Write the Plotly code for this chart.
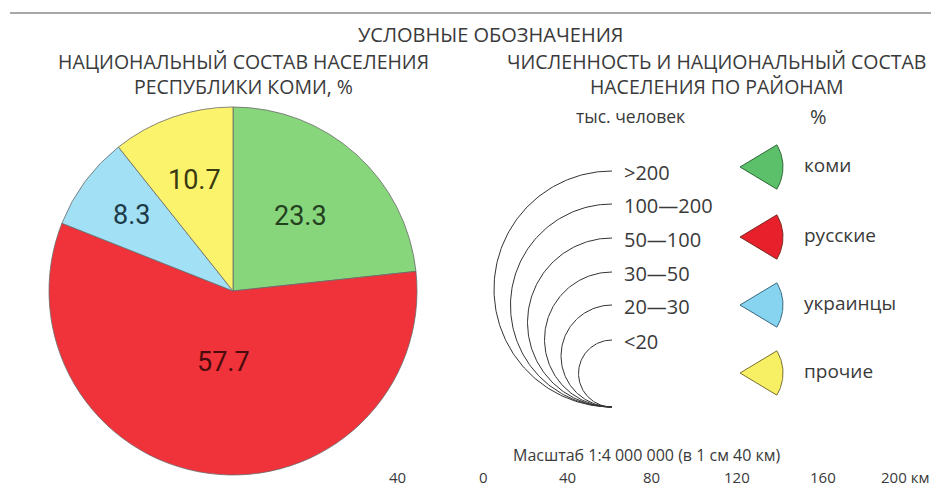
import numpy as np
import plotly.graph_objects as go

# ---- data ----
groups = ["коми", "русские", "украинцы", "прочие"]
shares = [23.3, 57.7, 8.3, 10.7]
pop_classes = [">200", "100—200", "50—100", "30—50", "20—30", "<20"]
scale_ticks = ["40", "0", "40", "80", "120", "160", "200 км"]

# ---- styles / layout config (screen pixels) ----
W, H = 939, 489
OFF = 8  # page body margin
pie_colors = ["#88d67c", "#f0323a", "#a2e0f5", "#fbf36c"]
pie_text_colors = ["#24401f", "#4a0c0c", "#1d3a48", "#3a3a10"]
label_radius_frac = [0.55, 0.39, 0.69, 0.64]
icon_colors = ["#5cc06a", "#e8202c", "#86d4f0", "#f8f064"]
icon_lines = ["#2f6a3a", "#7a2a20", "#3a6a80", "#7a7030"]
arc_radii = [118, 101.5, 84.5, 67.5, 51, 33.5]
arc_x, arc_bottom = 612, 407
icon_y = [167, 237, 305, 373]
tick_x = [397, 483, 567, 651, 737, 823, 905]
FONT = "Open Sans"
TXT = "#3a3a3a"

FW, FH = W - OFF, H - OFF
fig = go.Figure()

# pie (circle centre ~ (233, 291), radius ~184 px on screen)
cx, cy, R = 233, 291, 184
fig.add_trace(go.Pie(
    labels=groups, values=shares, sort=False, direction="clockwise", rotation=0,
    marker=dict(colors=pie_colors, line=dict(color="#6a6a6a", width=0.8)),
    textinfo="none",
    domain=dict(x=[(cx - OFF - R) / FW, (cx - OFF + R) / FW],
                y=[1 - (cy - OFF + R) / FH, 1 - (cy - OFF - R) / FH]),
    showlegend=False, hoverinfo="label+value",
))
total = sum(shares)
cum = 0
for v, col, fr in zip(shares, pie_text_colors, label_radius_frac):
    mid = (cum + v / 2) / total * 2 * np.pi
    cum += v
    fig.add_annotation(x=cx + fr * R * np.sin(mid), y=cy - fr * R * np.cos(mid),
                       text=f"{v:.1f}", showarrow=False, xanchor="center", yanchor="middle",
                       font=dict(family="Roboto", size=27, color=col))

# arcs legend (semicircles sharing the bottom point)
for lab, r in zip(pop_classes, arc_radii):
    t = np.linspace(-np.pi / 2, np.pi / 2, 140)
    xs = arc_x - r * np.cos(t)
    ys = (arc_bottom - r) + r * np.sin(t)
    fig.add_trace(go.Scatter(x=xs, y=ys, mode="lines", line=dict(color="#333", width=1),
                             showlegend=False, hoverinfo="skip"))
    fig.add_annotation(x=arc_x + 10, y=arc_bottom - 2 * r + 1, text=lab, showarrow=False,
                       xanchor="left", yanchor="middle",
                       font=dict(family=FONT, size=20, color=TXT))

# sector icons
for g, c, lc, yy in zip(groups, icon_colors, icon_lines, icon_y):
    a = np.linspace(-31, 31, 40) * np.pi / 180
    rr = 43
    ax = 740
    xs = np.concatenate([[ax], ax + rr * np.cos(a), [ax]])
    ys = np.concatenate([[yy], yy + rr * np.sin(a), [yy]])
    fig.add_trace(go.Scatter(x=xs, y=ys, mode="lines", fill="toself", fillcolor=c,
                             line=dict(color=lc, width=1), showlegend=False,
                             hoverinfo="skip"))
    fig.add_annotation(x=802, y=yy - 2, text=g, showarrow=False, xanchor="left",
                       yanchor="middle", font=dict(family=FONT, size=19, color=TXT))

# titles
def txt(x, y, s, size, anchor="center", yanchor="middle"):
    fig.add_annotation(x=x, y=y, text=s, showarrow=False, xanchor=anchor,
                       yanchor=yanchor, font=dict(family=FONT, size=size, color=TXT))

txt(490, 34, "УСЛОВНЫЕ ОБОЗНАЧЕНИЯ", 20)
txt(243, 74, "НАЦИОНАЛЬНЫЙ СОСТАВ НАСЕЛЕНИЯ<br>РЕСПУБЛИКИ КОМИ, %", 19.5)
txt(716, 74, "ЧИСЛЕННОСТЬ И НАЦИОНАЛЬНЫЙ СОСТАВ<br>НАСЕЛЕНИЯ ПО РАЙОНАМ", 19.5)
txt(630, 116, "тыс. человек", 17.5)
txt(818, 116, "%", 20)
txt(647, 455, "Масштаб 1:4 000 000 (в 1 см 40 км)", 16)
for s, x in zip(scale_ticks, tick_x):
    fig.add_annotation(x=x, xref="x", y=0, yref="paper", text=s, showarrow=False,
                       xanchor="center", yanchor="bottom",
                       font=dict(family=FONT, size=15, color=TXT))

# thin rule at the top of the sheet
fig.add_trace(go.Scatter(x=[10, 939], y=[13, 13], mode="lines",
                         line=dict(color="#8a8a8a", width=1.5),
                         showlegend=False, hoverinfo="skip"))

fig.update_layout(
    width=FW, height=FH, margin=dict(l=0, r=0, t=0, b=0),
    paper_bgcolor="white", plot_bgcolor="white",
    xaxis=dict(range=[OFF, W], visible=False, fixedrange=True, domain=[0, 1]),
    yaxis=dict(range=[H, OFF], visible=False, fixedrange=True, domain=[0, 1]),
)
fig.write_html("out.html")
